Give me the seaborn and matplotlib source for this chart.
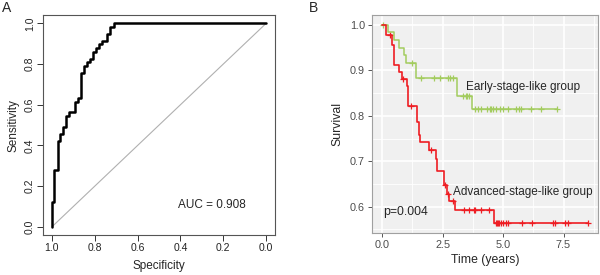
import numpy as np
import pandas as pd
import matplotlib
matplotlib.use("Agg")
import matplotlib.pyplot as plt
import seaborn as sns

## ROC corner points (specificity, sensitivity)
roc_spec = [1.0, 1.0, 0.988, 0.972, 0.96, 0.946, 0.933, 0.918, 0.89, 0.877, 0.862,
            0.849, 0.835, 0.821, 0.809, 0.795, 0.782, 0.767, 0.743, 0.728, 0.712, 0.0]
roc_sens = [0.0, 0.125, 0.28, 0.42, 0.457, 0.49, 0.544, 0.564, 0.615, 0.635, 0.757,
            0.789, 0.809, 0.827, 0.859, 0.877, 0.896, 0.914, 0.949, 0.984, 1.0, 1.0]
auc_text = "AUC = 0.908"

## Kaplan-Meier steps
early_t = [0, 0.22, 0.5, 0.7, 0.88, 0.97, 1.38, 3.1, 3.72, 7.25]
early_s = [1.0, 0.984, 0.966, 0.949, 0.935, 0.917, 0.884, 0.843, 0.814, 0.814]
early_cens = [0.03, 1.25, 1.6, 2.13, 2.4, 2.71, 2.8, 2.92, 3.35, 3.45, 3.52, 3.6,
              3.82, 3.96, 4.1, 4.35, 4.45, 4.51, 4.58, 4.72, 4.86, 5.0, 5.21,
              5.55, 5.65, 5.76, 6.15, 6.57, 7.25]

late_t = [0, 0.17, 0.40, 0.47, 0.69, 0.80, 1.01, 1.07, 1.43, 1.50, 1.58, 1.94,
          2.22, 2.26, 2.57, 2.67, 2.75, 3.03, 4.61, 8.51]
late_s = [1.0, 0.978, 0.956, 0.911, 0.896, 0.882, 0.866, 0.821, 0.787, 0.758,
          0.742, 0.724, 0.706, 0.678, 0.647, 0.629, 0.613, 0.592, 0.564, 0.564]
late_cens = [0.33, 0.85, 1.18, 2.01, 2.6, 2.7, 2.92, 3.4, 3.58, 3.79, 3.85, 4.1,
             4.4, 4.72, 4.76, 4.8, 4.85, 4.93, 5.0, 5.1, 5.2, 5.8, 6.18, 7.05,
             7.13, 7.57, 7.7, 8.51]

green = "#A3CC5E"
red = "#EE1D23"


def level_at(ts, ss, t):
    idx = np.searchsorted(ts, t, side="right") - 1
    return ss[idx]


sns.set_theme(style="white")
plt.rcParams['font.family'] = ['Liberation Sans', 'DejaVu Sans']

fig = plt.figure(figsize=(6, 2.75), dpi=100)

## ---------- A: ROC ----------
axA = fig.add_axes([0.072, 0.145, 0.386, 0.80])
roc = pd.DataFrame({"spec": roc_spec, "sens": roc_sens})
axA.plot([1, 0], [0, 1], color="#B0B0B0", lw=0.8)
sns.lineplot(data=roc, x="spec", y="sens", sort=False, estimator=None,
             drawstyle="steps-post", color="black", lw=1.8, ax=axA)
axA.set_xlim(1.04, -0.04)
axA.set_ylim(-0.04, 1.04)
axA.set_xticks([1.0, 0.8, 0.6, 0.4, 0.2, 0.0])
axA.set_xticklabels(["1.0", "0.8", "0.6", "0.4", "0.2", "0.0"])
axA.set_yticks([0.0, 0.2, 0.4, 0.6, 0.8, 1.0])
axA.set_yticklabels(["0.0", "0.2", "0.4", "0.6", "0.8", "1.0"], rotation=90,
                    va="center")
axA.tick_params(axis="both", direction="out", length=4, width=0.7,
                color="#333333", labelsize=7.5, pad=2, labelcolor="#222222")
axA.tick_params(axis="both", which="both", bottom=True, left=True)
for sp in axA.spines.values():
    sp.set_color("#555555")
    sp.set_linewidth(0.8)
axA.set_xlabel("Specificity", fontsize=8.5, labelpad=5)
axA.set_ylabel("Sensitivity", fontsize=8.5, labelpad=4)
axA.text(0.41, 0.11, auc_text, fontsize=8.5, ha="left", va="center")
fig.text(0.004, 0.97, "A", fontsize=10, va="center")

## ---------- B: Kaplan-Meier ----------
axB = fig.add_axes([0.62, 0.153, 0.377, 0.792])
axB.set_facecolor("#F0F0F0")
xmax = max(late_t)
xpad = 0.05 * xmax
ymin = min(late_s)
ypad = 0.05 * (1.0 - ymin)
axB.set_xlim(-xpad, xmax + xpad)
axB.set_ylim(ymin - ypad, 1.0 + ypad)
axB.set_xticks([0, 2.5, 5.0, 7.5])
axB.set_xticklabels(["0.0", "2.5", "5.0", "7.5"])
axB.set_xticks([1.25, 3.75, 6.25, 8.75], minor=True)
axB.set_yticks([0.6, 0.7, 0.8, 0.9, 1.0])
axB.set_yticklabels(["0.6", "0.7", "0.8", "0.9", "1.0"])
axB.set_yticks([0.55, 0.65, 0.75, 0.85, 0.95], minor=True)
axB.grid(which="major", color="white", lw=1.2)
axB.grid(which="minor", color="white", lw=0.6)
axB.set_axisbelow(True)
axB.tick_params(axis="both", which="major", direction="out", length=3,
                width=0.7, color="#555555", labelsize=7.8, pad=2,
                labelcolor="#4D4D4D", bottom=True, left=True)
axB.tick_params(axis="both", which="minor", length=0)
for sp in axB.spines.values():
    sp.set_color("#A0A0A0")
    sp.set_linewidth(0.8)

early = pd.DataFrame({"t": early_t, "s": early_s})
late = pd.DataFrame({"t": late_t, "s": late_s})
sns.lineplot(data=early, x="t", y="s", sort=False, estimator=None,
             drawstyle="steps-post", color=green, lw=1.1, ax=axB)
sns.lineplot(data=late, x="t", y="s", sort=False, estimator=None,
             drawstyle="steps-post", color=red, lw=1.2, ax=axB)

early_c = pd.DataFrame({"t": early_cens,
                        "s": [level_at(early_t, early_s, t) for t in early_cens]})
late_c = pd.DataFrame({"t": late_cens,
                       "s": [level_at(late_t, late_s, t) for t in late_cens]})
sns.scatterplot(data=early_c, x="t", y="s", marker="+", s=16, color=green,
                linewidth=0.9, ax=axB)
sns.scatterplot(data=late_c, x="t", y="s", marker="+", s=16, color=red,
                linewidth=0.9, ax=axB)

axB.text(3.47, 0.863, "Early-stage-like group", fontsize=8.5, ha="left",
         va="center")
axB.text(2.92, 0.633, "Advanced-stage-like group", fontsize=8.5, ha="left",
         va="center")
axB.text(0.04, 0.588, "p=0.004", fontsize=8.8, ha="left", va="center")
axB.set_xlabel("Time (years)", fontsize=8.8, labelpad=3)
axB.set_ylabel("Survival", fontsize=8.8, labelpad=5)
fig.text(0.515, 0.97, "B", fontsize=10, va="center")

fig.savefig("out.png", dpi=100)
